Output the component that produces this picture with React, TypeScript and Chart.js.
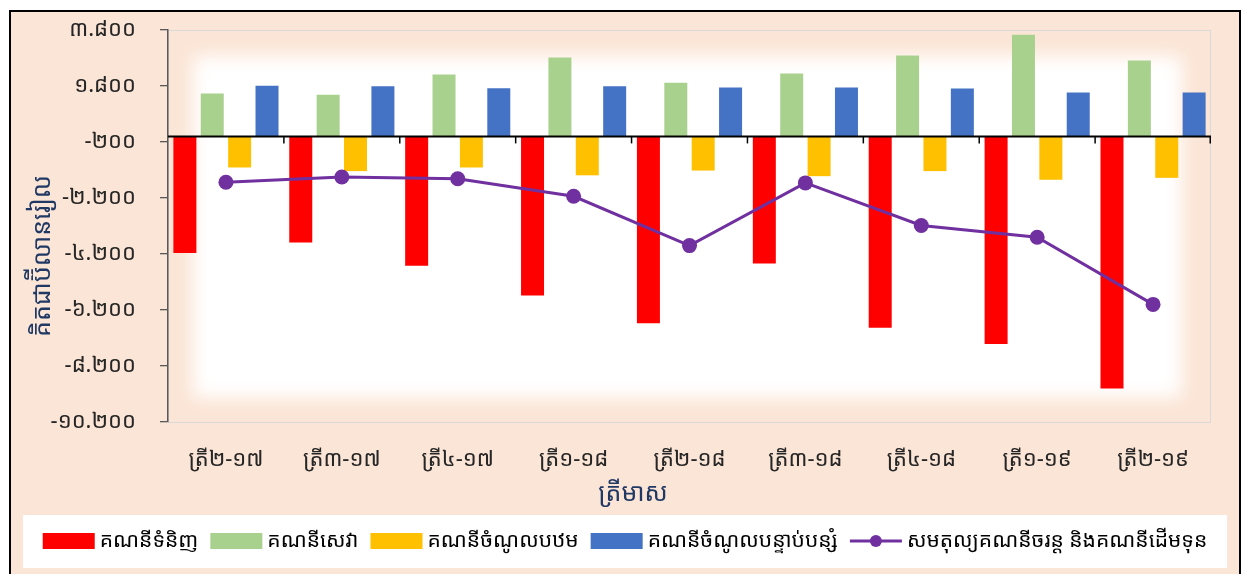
import React, { useEffect, useRef } from "react";
import { Chart, registerables } from "chart.js";

Chart.register(...registerables);

// ---------- data ----------
const categories = [
  "ត្រី២-១៧",
  "ត្រី៣-១៧",
  "ត្រី៤-១៧",
  "ត្រី១-១៨",
  "ត្រី២-១៨",
  "ត្រី៣-១៨",
  "ត្រី៤-១៨",
  "ត្រី១-១៩",
  "ត្រី២-១៩",
];

const goods = [-4160, -3790, -4620, -5680, -6670, -4540, -6830, -7410, -9000];
const services = [1530, 1490, 2210, 2820, 1920, 2250, 2890, 3630, 2710];
const primaryIncome = [-1110, -1240, -1110, -1390, -1220, -1420, -1240, -1550, -1480];
const secondaryIncome = [1810, 1790, 1720, 1790, 1745, 1745, 1710, 1565, 1565];
const balance = [-1640, -1450, -1510, -2140, -3900, -1660, -3180, -3600, -6000];

const seriesLabels = [
  "គណនីទំនិញ",
  "គណនីសេវា",
  "គណនីចំណូលបឋម",
  "គណនីចំណូលបន្ទាប់បន្សំ",
  "សមតុល្យគណនីចរន្ត និងគណនីដើមទុន",
];

const tickValues = [-10200, -8200, -6200, -4200, -2200, -200, 1800, 3800];
const tickLabels = ["-១០.២០០", "-៨.២០០", "-៦.២០០", "-៤.២០០", "-២.២០០", "-២០០", "១.៨០០", "៣.៨០០"];

const yTitle = "គិតជាប៊ីលានរៀល";
const xTitle = "ត្រីមាស";

// ---------- style ----------
const FONT = "'Khmer OS System','Noto Sans Khmer','Khmer OS','DejaVu Sans',sans-serif";
const PEACH = "#FBE5D6";
const TITLE_COLOR = "#1F3864";
const TEXT_COLOR = "#262626";

export default function App() {
  const ref = useRef<HTMLCanvasElement>(null);

  useEffect(() => {
    if (!ref.current) return;

    const bgPlugin = {
      id: "bgPlugin",
      beforeDraw(chart: any) {
        const { ctx, chartArea: a } = chart;
        ctx.save();
        ctx.fillStyle = PEACH;
        ctx.fillRect(0, 0, chart.width, chart.height);
        ctx.beginPath();
        ctx.rect(a.left, a.top, a.right - a.left, a.bottom - a.top);
        ctx.clip();
        ctx.filter = "blur(9px)";
        ctx.fillStyle = "#ffffff";
        ctx.fillRect(a.left + 25, a.top + 26, a.right - a.left - 25 - 29, a.bottom - a.top - 26 - 24);
        ctx.restore();
        ctx.save();
        ctx.strokeStyle = "#D9D9D9";
        ctx.lineWidth = 1;
        ctx.strokeRect(a.left + 0.5, a.top + 0.5, a.right - a.left - 1, a.bottom - a.top);
        ctx.restore();
      },
    };

    const axisPlugin = {
      id: "axisPlugin",
      afterDatasetsDraw(chart: any) {
        const { ctx, chartArea: a, scales } = chart;
        const y0 = scales.y.getPixelForValue(0);
        ctx.save();
        ctx.strokeStyle = "#000000";
        ctx.lineWidth = 2;
        ctx.beginPath();
        ctx.moveTo(a.left, y0);
        ctx.lineTo(a.right, y0);
        ctx.stroke();
        ctx.lineWidth = 1.5;
        const n = categories.length;
        for (let i = 1; i <= n; i++) {
          const x = i < n
            ? (scales.x.getPixelForValue(i - 1) + scales.x.getPixelForValue(i)) / 2
            : a.right - 0.75;
          ctx.beginPath();
          ctx.moveTo(x, y0);
          ctx.lineTo(x, y0 + 7);
          ctx.stroke();
        }
        ctx.restore();
      },
      afterDraw(chart: any) {
        const { ctx } = chart;
        ctx.save();
        // axis titles
        ctx.fillStyle = TITLE_COLOR;
        ctx.font = `25px ${FONT}`;
        ctx.textAlign = "center";
        ctx.textBaseline = "middle";
        ctx.save();
        ctx.translate(32, 244);
        ctx.rotate(-Math.PI / 2);
        ctx.fillText(yTitle, 0, 0);
        ctx.restore();
        ctx.fillText(xTitle, 622, 482);

        // legend
        const boxL = 12, boxR = 1216, boxT = 503, boxB = 556;
        ctx.fillStyle = "#ffffff";
        ctx.fillRect(boxL, boxT, boxR - boxL, boxB - boxT);
        ctx.font = `21px ${FONT}`;
        const ds = chart.data.datasets;
        const sw = 52, gap = 5, itemGap = 12;
        const widths = ds.map((d: any) => ctx.measureText(d.label).width);
        const total = widths.reduce((s: number, w: number) => s + sw + gap + w, 0) + itemGap * (ds.length - 1);
        let x = (boxL + boxR) / 2 - total / 2;
        const cy = 529;
        ds.forEach((d: any, i: number) => {
          if (d.type === "line") {
            ctx.strokeStyle = d.borderColor;
            ctx.lineWidth = 3;
            ctx.beginPath();
            ctx.moveTo(x, cy);
            ctx.lineTo(x + sw, cy);
            ctx.stroke();
            ctx.fillStyle = d.borderColor;
            ctx.beginPath();
            ctx.arc(x + sw / 2, cy, 6, 0, Math.PI * 2);
            ctx.fill();
          } else {
            ctx.fillStyle = d.backgroundColor;
            ctx.fillRect(x, cy - 8, sw, 16);
          }
          ctx.fillStyle = "#000000";
          ctx.textAlign = "left";
          ctx.textBaseline = "middle";
          ctx.fillText(d.label, x + sw + gap, cy);
          x += sw + gap + widths[i] + itemGap;
        });
        ctx.restore();
      },
    };

    const barCommon = { barPercentage: 0.84, categoryPercentage: 0.945, borderWidth: 0 };

    const chart = new Chart(ref.current, {
      type: "bar",
      data: {
        labels: categories,
        datasets: [
          { type: "bar", label: seriesLabels[0], data: goods, backgroundColor: "#FF0000", ...barCommon },
          { type: "bar", label: seriesLabels[1], data: services, backgroundColor: "#A9D18E", ...barCommon },
          { type: "bar", label: seriesLabels[2], data: primaryIncome, backgroundColor: "#FFC000", ...barCommon },
          { type: "bar", label: seriesLabels[3], data: secondaryIncome, backgroundColor: "#4472C4", ...barCommon },
          {
            type: "line",
            label: seriesLabels[4],
            data: balance,
            borderColor: "#7030A0",
            backgroundColor: "#7030A0",
            borderWidth: 3,
            pointRadius: 7.5,
            pointBorderWidth: 0,
            pointBackgroundColor: "#7030A0",
            tension: 0,
            order: -1,
          } as any,
        ],
      },
      options: {
        responsive: false,
        animation: false,
        layout: { padding: { left: 0, top: 18, right: 28, bottom: 72 }, autoPadding: false } as any,
        plugins: {
          legend: { display: false },
          tooltip: { enabled: false },
          title: { display: false },
        },
        scales: {
          x: {
            offset: true,
            grid: { display: false, drawTicks: false },
            border: { display: false },
            ticks: {
              padding: 25,
              color: TEXT_COLOR,
              font: { size: 22, family: FONT },
              maxRotation: 0,
              autoSkip: false,
            },
            afterFit: (s: any) => { s.height = 80; s.paddingLeft = 0; s.paddingRight = 0; },
          },
          y: {
            min: -10200,
            max: 3800,
            afterBuildTicks: (s: any) => { s.ticks = tickValues.map((v) => ({ value: v })); },
            afterFit: (s: any) => { s.width = 157; s.paddingTop = 0; s.paddingBottom = 0; },
            grid: { drawOnChartArea: false, drawTicks: true, tickLength: 8, color: "#595959", lineWidth: 1.3 },
            border: { display: true, color: "#595959", width: 1.5 },
            ticks: {
              padding: 24,
              color: TEXT_COLOR,
              font: { size: 22, family: FONT },
              callback: (v: any) => tickLabels[tickValues.indexOf(Number(v))],
            },
          },
        },
      } as any,
      plugins: [bgPlugin, axisPlugin],
    });

    return () => chart.destroy();
  }, []);

  return (
    <div
      style={{
        position: "fixed",
        left: 9,
        top: 10,
        width: 1232,
        height: 600,
        border: "2px solid #000",
        boxSizing: "border-box",
        background: PEACH,
      }}
    >
      <canvas ref={ref} width={1228} height={562} style={{ display: "block", width: 1228, height: 562 }} />
    </div>
  );
}
